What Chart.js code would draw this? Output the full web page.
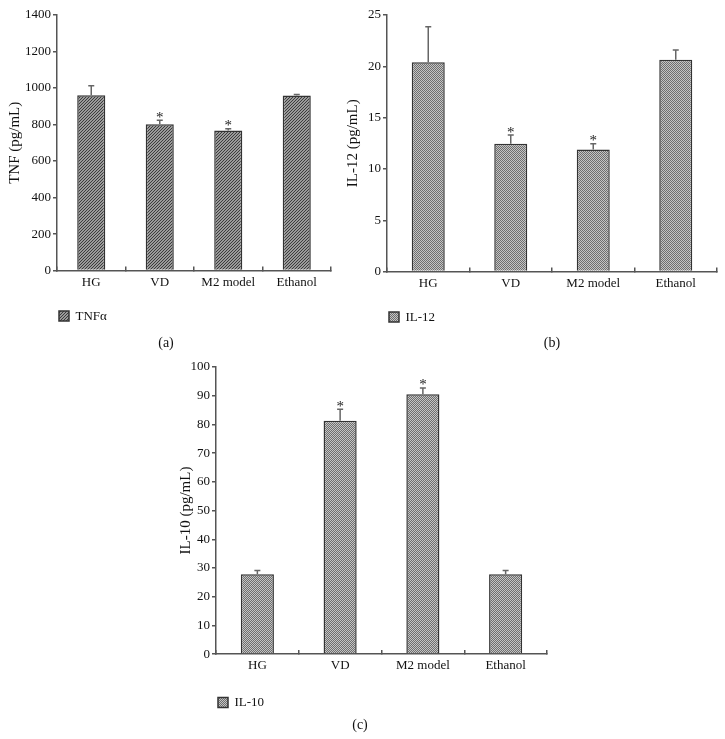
<!DOCTYPE html>
<html>
<head>
<meta charset="utf-8">
<script src="https://cdn.jsdelivr.net/npm/chart.js@4/dist/chart.umd.min.js"></script>
<style>
  body { margin: 0; background: #fff; }
  #wrap { position: relative; width: 725px; height: 739px; overflow: hidden; }
  canvas { position: absolute; }
  .cap { position: absolute; font: 14px 'Liberation Serif', serif; color: #111; transform: translate(-50%, -50%); }
</style>
</head>
<body>
<div id="wrap">
  <canvas id="chartA" style="left:0;top:0" width="345" height="340"></canvas>
  <canvas id="chartB" style="left:340px;top:0" width="385" height="340"></canvas>
  <canvas id="chartC" style="left:170px;top:355px" width="390" height="384"></canvas>
  <div class="cap" style="left:166px;top:343px">(a)</div>
  <div class="cap" style="left:552px;top:343px">(b)</div>
  <div class="cap" style="left:360px;top:725px">(c)</div>
</div>
<script>
const groups = ['HG', 'VD', 'M2 model', 'Ethanol'];
const stars = [false, true, true, false];

const tnfValues = [961, 801, 768, 959];
const tnfSd = [51, 23, 9, 6];

const il12Values = [20.4, 12.45, 11.9, 20.65];
const il12Sd = [3.45, 0.85, 0.55, 0.95];

const il10Values = [27.8, 81.3, 90.5, 27.8];
const il10Sd = [1.3, 4.0, 2.2, 1.3];

const serif = "'Liberation Serif', 'DejaVu Serif', serif";
const axisColor = '#555';

// fill patterns for the bars
function hatch() {
  const c = document.createElement('canvas');
  c.width = 3; c.height = 3;
  const g = c.getContext('2d');
  g.fillStyle = '#9a9a9a';
  g.fillRect(0, 0, 3, 3);
  g.fillStyle = '#3c3c3c';
  for (let i = 0; i < 3; i++) g.fillRect(i, 2 - i, 1, 1);
  return g.createPattern(c, 'repeat');
}

function checker() {
  const c = document.createElement('canvas');
  c.width = 2; c.height = 2;
  const g = c.getContext('2d');
  g.fillStyle = '#c4c4c4';
  g.fillRect(0, 0, 2, 2);
  g.fillStyle = '#6e6e6e';
  g.fillRect(0, 0, 1, 1);
  g.fillRect(1, 1, 1, 1);
  return g.createPattern(c, 'repeat');
}

const errorBars = {
  id: 'errorBars',
  afterDatasetsDraw(chart, args, opts) {
    const ctx = chart.ctx;
    const y = chart.scales.y;
    const values = chart.data.datasets[0].data;
    chart.getDatasetMeta(0).data.forEach((bar, i) => {
      const top = y.getPixelForValue(values[i] + opts.sd[i]);
      ctx.save();
      ctx.strokeStyle = '#666';
      ctx.lineWidth = 1.5;
      ctx.beginPath();
      ctx.moveTo(bar.x, bar.y);
      ctx.lineTo(bar.x, top);
      ctx.moveTo(bar.x - 3, top);
      ctx.lineTo(bar.x + 3, top);
      ctx.stroke();
      if (opts.stars[i]) {
        ctx.fillStyle = '#222';
        ctx.font = '15px ' + serif;
        ctx.textAlign = 'center';
        ctx.textBaseline = 'alphabetic';
        ctx.fillText('*', bar.x, top + 1.5);
      }
      ctx.restore();
    });
  }
};

function makeChart(id, cfg) {
  return new Chart(document.getElementById(id), {
    type: 'bar',
    data: {
      labels: groups,
      datasets: [{
        label: cfg.label,
        data: cfg.values,
        backgroundColor: cfg.fill,
        borderColor: '#333',
        borderWidth: 1.5,
        barPercentage: cfg.barPct,
        categoryPercentage: 1
      }]
    },
    options: {
      responsive: false,
      animation: false,
      layout: { padding: cfg.padding },
      plugins: {
        tooltip: { enabled: false },
        legend: {
          position: 'bottom',
          align: 'start',
          fullSize: false,
          labels: { boxWidth: 10, boxHeight: 10, padding: 2, color: '#111', font: { family: serif, size: 13 } }
        },
        errorBars: { sd: cfg.sd, stars: stars }
      },
      scales: {
        x: {
          grid: { display: true, drawOnChartArea: false, drawTicks: true, tickLength: -4, color: axisColor, lineWidth: 1.5 },
          border: { display: true, color: axisColor, width: 1.5 },
          ticks: { color: '#111', padding: 8, maxRotation: 0, font: { family: serif, size: 13 } },
          afterFit: s => { s.height = cfg.xHeight; }
        },
        y: {
          min: 0,
          max: cfg.max,
          ticks: { stepSize: cfg.step, color: '#111', padding: 2, font: { family: serif, size: 13 }, callback: v => String(v) },
          grid: { display: true, drawOnChartArea: false, drawTicks: true, tickLength: 4, color: axisColor, lineWidth: 1.5 },
          border: { display: true, color: axisColor, width: 1.5 },
          title: { display: true, text: cfg.yTitle, color: '#111', padding: 0, font: { family: serif, size: 15 } },
          afterFit: s => { s.width = cfg.yWidth; }
        }
      }
    },
    plugins: [errorBars]
  });
}

makeChart('chartA', {
  label: 'TNFα', values: tnfValues, sd: tnfSd, fill: hatch(), barPct: 0.41,
  max: 1400, step: 200, yTitle: 'TNF (pg/mL)',
  padding: { left: 6, right: 14, top: 15, bottom: 7.4 }, yWidth: 51, xHeight: 37
});

makeChart('chartB', {
  label: 'IL-12', values: il12Values, sd: il12Sd, fill: checker(), barPct: 0.4,
  max: 25, step: 5, yTitle: 'IL-12 (pg/mL)',
  padding: { left: 4, right: 8, top: 15, bottom: 6.4 }, yWidth: 43, xHeight: 37
});

makeChart('chartC', {
  label: 'IL-10', values: il10Values, sd: il10Sd, fill: checker(), barPct: 0.4,
  max: 100, step: 10, yTitle: 'IL-10 (pg/mL)',
  padding: { left: 7, right: 13, top: 12, bottom: 19.9 }, yWidth: 39, xHeight: 40
});
</script>
</body>
</html>
